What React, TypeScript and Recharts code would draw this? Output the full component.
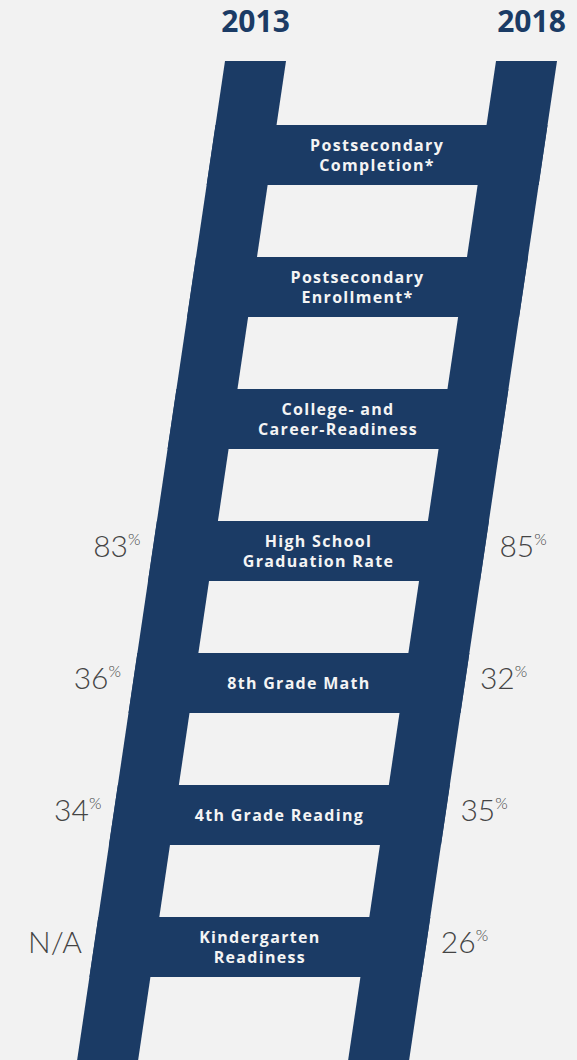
import { ComposedChart, Area, Scatter, XAxis, YAxis } from "recharts";

const years = ["2013", "2018"];
const rungLabels = [
  ["Postsecondary", "Completion*"],
  ["Postsecondary", "Enrollment*"],
  ["College- and", "Career-Readiness"],
  ["High School", "Graduation Rate"],
  ["8th Grade Math"],
  ["4th Grade Reading"],
  ["Kindergarten", "Readiness"],
];
const rates2013: (number | string | null)[] = [null, null, null, 83, 36, 34, "N/A"];
const rates2018: (number | string | null)[] = [null, null, null, 85, 32, 35, 26];

// ladder layout, in page pixels
const W = 577;
const H = 1060;
const NAVY = "#1b3b65";
const RAIL_TOP = 61;
const RAIL_W = 61;
const SLANT = 0.148;
const LEFT_X0 = 225;
const RIGHT_X0 = 496;
const RUNG_Y0 = 125;
const RUNG_STEP = 132;
const RUNG_H = 60;

const railX = (x0: number, y: number) => x0 - SLANT * (y - RAIL_TOP);
const rungMid = (i: number) => RUNG_Y0 + i * RUNG_STEP + RUNG_H / 2;

const railData = (x0: number) =>
  [RAIL_TOP, H].map((y) => ({ y, x: [railX(x0, y), railX(x0, y) + RAIL_W] }));

const rungData = rungLabels.map((_, i) => {
  const top = RUNG_Y0 + i * RUNG_STEP;
  return [top, top + RUNG_H].map((y) => ({
    y,
    x: [railX(LEFT_X0, y), railX(RIGHT_X0, y) + RAIL_W],
  }));
});

const labelData = rungLabels.map((lines, i) => {
  const y = rungMid(i);
  return { y, x: (railX(LEFT_X0, y) + RAIL_W + railX(RIGHT_X0, y)) / 2, lines };
});

const leftRates = rates2013
  .map((v, i) => ({ v, y: rungMid(i), x: railX(LEFT_X0, rungMid(i)) - 12 }))
  .filter((d) => d.v !== null);
const rightRates = rates2018
  .map((v, i) => ({ v, y: rungMid(i), x: railX(RIGHT_X0, rungMid(i)) + RAIL_W + 15 }))
  .filter((d) => d.v !== null);

const yearData = years.map((t, i) => ({
  t,
  y: 32,
  x: [LEFT_X0, RIGHT_X0][i] + RAIL_W / 2 + [0, 5][i],
}));

const RungText = (p: any) => {
  const { cx, cy, payload } = p;
  const lines: string[] = payload.lines;
  const base = lines.length === 1 ? cy + 6 : cy - 4;
  return (
    <text
      textAnchor="middle"
      fill="#f4f4f4"
      fontFamily="'Open Sans', sans-serif"
      fontWeight={700}
      fontSize={16}
      letterSpacing={1.3}
    >
      {lines.map((l, k) => (
        <tspan key={k} x={cx} y={base + k * 19.5}>
          {l}
        </tspan>
      ))}
    </text>
  );
};

const rateText = (anchor: "start" | "end") => (p: any) => {
  const { cx, cy, payload } = p;
  const isNum = typeof payload.v === "number";
  return (
    <text
      x={cx}
      y={cy + 5.5}
      textAnchor={anchor}
      fill="#444444"
      fontFamily="Lato, sans-serif"
      fontWeight={300}
      fontSize={30}
    >
      {payload.v}
      {isNum && (
        <tspan fontSize={16} dy={-12}>
          %
        </tspan>
      )}
    </text>
  );
};

const YearText = (p: any) => {
  const { cx, cy, payload } = p;
  return (
    <text
      x={cx}
      y={cy}
      textAnchor="middle"
      fill={NAVY}
      fontFamily="'Open Sans', sans-serif"
      fontWeight={700}
      fontSize={30}
    >
      {payload.t}
    </text>
  );
};

export default function App() {
  return (
    <div
      style={{
        position: "absolute",
        left: 0,
        top: 0,
        width: W,
        height: H,
        background: "#f2f2f2",
      }}
    >
      <ComposedChart
        width={W}
        height={H}
        layout="vertical"
        margin={{ top: 0, right: 0, bottom: 0, left: 0 }}
      >
        <XAxis type="number" domain={[0, W]} allowDataOverflow hide />
        <YAxis type="number" dataKey="y" domain={[0, H]} allowDataOverflow hide />
        <Area
          data={railData(LEFT_X0)}
          dataKey="x"
          type="linear"
          stroke="none"
          fill={NAVY}
          fillOpacity={1}
          dot={false}
          activeDot={false}
          isAnimationActive={false}
        />
        <Area
          data={railData(RIGHT_X0)}
          dataKey="x"
          type="linear"
          stroke="none"
          fill={NAVY}
          fillOpacity={1}
          dot={false}
          activeDot={false}
          isAnimationActive={false}
        />
        {rungData.map((d, i) => (
          <Area
            key={i}
            data={d}
            dataKey="x"
            type="linear"
            stroke="none"
            fill={NAVY}
            fillOpacity={1}
            dot={false}
            activeDot={false}
            isAnimationActive={false}
          />
        ))}
        <Scatter data={labelData} dataKey="x" shape={RungText} isAnimationActive={false} />
        <Scatter data={leftRates} dataKey="x" shape={rateText("end")} isAnimationActive={false} />
        <Scatter data={rightRates} dataKey="x" shape={rateText("start")} isAnimationActive={false} />
        <Scatter data={yearData} dataKey="x" shape={YearText} isAnimationActive={false} />
      </ComposedChart>
    </div>
  );
}
